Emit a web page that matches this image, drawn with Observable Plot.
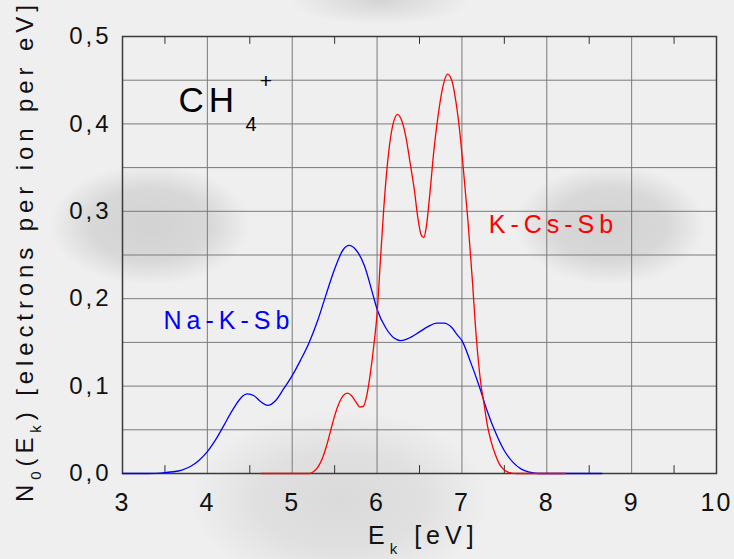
<!DOCTYPE html>
<html>
<head>
<meta charset="utf-8">
<script src="https://cdn.jsdelivr.net/npm/d3@7"></script>
<script src="https://cdn.jsdelivr.net/npm/@observablehq/plot@0.6"></script>
<style>
  html, body { margin: 0; padding: 0; }
  body {
    width: 734px; height: 559px; overflow: hidden;
    background-color: #efefef;
    background-image:
      radial-gradient(ellipse 100px 60px at 150px 225px, #d2d2d2 0%, #d8d8d8 60%, rgba(239,239,239,0) 100%),
      radial-gradient(ellipse 95px 60px at 610px 225px, #d2d2d2 0%, #d8d8d8 60%, rgba(239,239,239,0) 100%),
      radial-gradient(ellipse 150px 90px at 340px 500px, #dadada 0%, #e0e0e0 55%, rgba(239,239,239,0) 100%),
      radial-gradient(ellipse 90px 25px at 380px 0px, #d4d4d4 0%, rgba(239,239,239,0) 100%);
  }
</style>
</head>
<body>
<div id="chart"></div>
<script>
// Na-K-Sb (blue)
const naX = [3.0, 3.3, 3.5, 3.6, 3.7, 3.8, 3.9, 4.0, 4.1, 4.2, 4.3, 4.4, 4.47, 4.55, 4.63, 4.71, 4.8, 4.9, 5.0, 5.1, 5.2, 5.3, 5.4, 5.5, 5.6, 5.67, 5.75, 5.85, 5.95, 6.0, 6.1, 6.2, 6.28, 6.4, 6.5, 6.6, 6.7, 6.79, 6.88, 6.95, 7.0, 7.1, 7.2, 7.3, 7.4, 7.5, 7.6, 7.7, 7.8, 7.9, 8.65];
const naY = [0, 0, 0.001, 0.002, 0.004, 0.008, 0.015, 0.025, 0.039, 0.056, 0.073, 0.087, 0.091, 0.089, 0.082, 0.078, 0.083, 0.097, 0.112, 0.130, 0.150, 0.175, 0.205, 0.234, 0.256, 0.261, 0.256, 0.238, 0.205, 0.188, 0.167, 0.155, 0.152, 0.156, 0.162, 0.168, 0.172, 0.172, 0.167, 0.158, 0.152, 0.128, 0.101, 0.071, 0.046, 0.026, 0.013, 0.005, 0.0015, 0, 0];

// K-Cs-Sb (red)
const kcX = [4.63, 5.2, 5.25, 5.3, 5.35, 5.4, 5.45, 5.5, 5.55, 5.6, 5.65, 5.7, 5.75, 5.8, 5.84, 5.88, 5.92, 5.96, 6.0, 6.04, 6.08, 6.12, 6.16, 6.2, 6.24, 6.29, 6.34, 6.39, 6.44, 6.48, 6.52, 6.55, 6.58, 6.62, 6.67, 6.72, 6.77, 6.83, 6.88, 6.93, 6.97, 7.02, 7.07, 7.12, 7.17, 7.22, 7.26, 7.3, 7.34, 7.4, 7.44, 7.5, 7.56, 7.65, 8.22];
const kcY = [0, 0, 0.002, 0.007, 0.016, 0.030, 0.048, 0.066, 0.080, 0.089, 0.092, 0.089, 0.082, 0.076, 0.077, 0.090, 0.114, 0.145, 0.183, 0.245, 0.305, 0.352, 0.385, 0.404, 0.411, 0.404, 0.385, 0.355, 0.324, 0.293, 0.273, 0.270, 0.282, 0.318, 0.370, 0.410, 0.440, 0.457, 0.450, 0.425, 0.395, 0.345, 0.290, 0.225, 0.155, 0.105, 0.080, 0.055, 0.038, 0.020, 0.011, 0.004, 0.001, 0, 0];

const xTicks = [3, 4, 5, 6, 7, 8, 9, 10];
const xMinor = [3.5, 4.5, 5.5, 6.5, 7.5, 8.5, 9.5];
const yTicks = [0, 0.1, 0.2, 0.3, 0.4, 0.5];
const yGrid = [0.05, 0.1, 0.15, 0.2, 0.25, 0.3, 0.35, 0.4, 0.45];

const seriesNames = ["Na-K-Sb", "K-Cs-Sb"];
const na = naX.map((x, i) => ({x, y: naY[i]}));
const kc = kcX.map((x, i) => ({x, y: kcY[i]}));

const font = "Liberation Sans, Arial, Helvetica, sans-serif";
const gridColor = "#7a7a7a";

const plot = Plot.plot({
  width: 734,
  height: 559,
  marginLeft: 122,
  marginRight: 18,
  marginTop: 36,
  marginBottom: 86,
  style: {background: "transparent", fontFamily: font, fontSize: "22px", color: "#111"},
  x: {domain: [3, 10]},
  y: {domain: [0, 0.5]},
  marks: [
    Plot.ruleX(xTicks, {stroke: gridColor, strokeWidth: 1}),
    Plot.ruleY(yGrid, {stroke: gridColor, strokeWidth: 1}),
    Plot.ruleX(xMinor, {y1: 0, y2: 0.009, stroke: "#333", strokeWidth: 1}),
    Plot.ruleX(xMinor, {y1: 0.491, y2: 0.5, stroke: "#333", strokeWidth: 1}),
    Plot.frame({stroke: "#3a3a3a", strokeWidth: 1.5}),
    Plot.line(na, {x: "x", y: "y", stroke: "#0000ff", strokeWidth: 1.3, curve: "monotone-x"}),
    Plot.line(kc, {x: "x", y: "y", stroke: "#ff0000", strokeWidth: 1.3, curve: "monotone-x"}),
    Plot.axisX({ticks: xTicks, tickSize: 0, tickPadding: 20, label: null, fontSize: 25, tickFormat: d => String(d)}),
    Plot.axisY({ticks: yTicks, tickSize: 0, tickPadding: 11, label: null, fontSize: 24,
      tickFormat: d => d.toFixed(1).replace(".", ",")}),
    Plot.text([seriesNames[0]], {x: 3.483, y: 0.165, text: d => d, fill: "#0000ff", fontSize: 25,
      textAnchor: "start", lineAnchor: "bottom"}),
    Plot.text([seriesNames[1]], {x: 7.316, y: 0.2746, text: d => d, fill: "#ff0000", fontSize: 25,
      textAnchor: "start", lineAnchor: "bottom"}),
    Plot.text(["CH"], {x: 3.66, y: 0.4134, text: d => d, fill: "#000", fontSize: 35,
      textAnchor: "start", lineAnchor: "bottom"}),
    Plot.text(["4"], {x: 4.45, y: 0.3924, text: d => d, fill: "#000", fontSize: 20,
      textAnchor: "start", lineAnchor: "bottom"}),
    Plot.text(["+"], {x: 4.72, y: 0.4485, text: d => d, fill: "#000", fontSize: 21,
      textAnchor: "middle", lineAnchor: "middle"})
  ]
});

document.getElementById("chart").appendChild(plot);
const svg = d3.select(plot);
svg.selectAll("text").style("letter-spacing", "5px");
svg.selectAll("g[aria-label='y-axis tick label'] text").style("letter-spacing", "3px");
svg.selectAll("g[aria-label='x-axis tick label'] text").style("letter-spacing", "2px");

// Axis titles with subscripts
const xl = svg.append("text")
  .attr("x", 368).attr("y", 544).attr("text-anchor", "start")
  .attr("font-family", font).attr("font-size", 25).attr("fill", "#111")
  .style("letter-spacing", "5px");
xl.append("tspan").text("E");
xl.append("tspan").attr("font-size", 15).attr("dy", 10).text("k");
xl.append("tspan").attr("dy", -10).text(" [eV]");

const yl = svg.append("text")
  .attr("transform", "translate(33,502) rotate(-90)")
  .attr("x", 0).attr("y", 0).attr("text-anchor", "start")
  .attr("font-family", font).attr("font-size", 24).attr("fill", "#111")
  .style("letter-spacing", "4.9px");
yl.append("tspan").text("N");
yl.append("tspan").attr("font-size", 15).attr("dy", 8).text("0");
yl.append("tspan").attr("dy", -8).text("(E");
yl.append("tspan").attr("font-size", 15).attr("dy", 8).text("k");
yl.append("tspan").attr("dy", -8).text(") [electrons per ion per eV]");
</script>
</body>
</html>
